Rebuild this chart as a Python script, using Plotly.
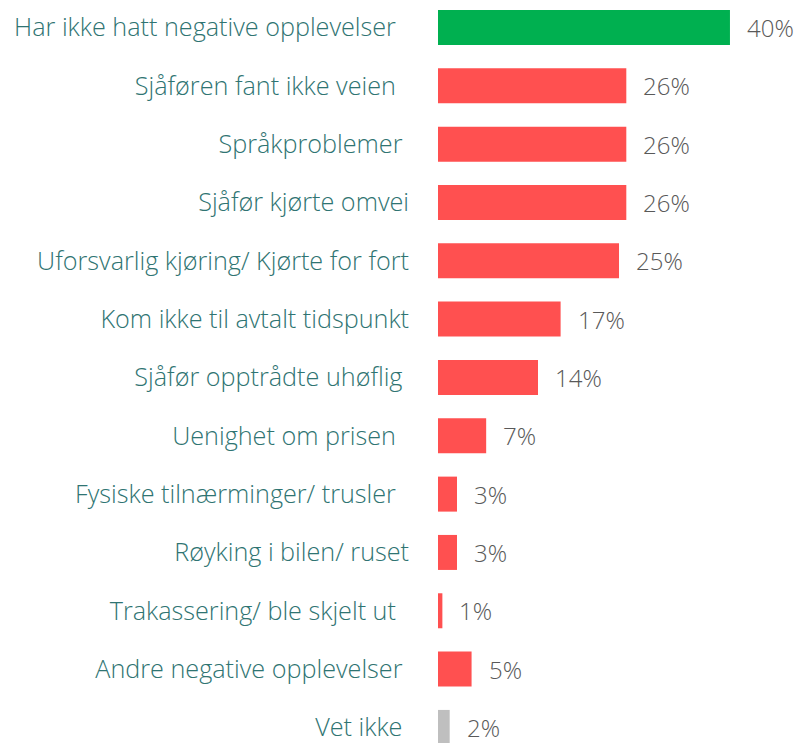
import plotly.graph_objects as go

categories = [
    "Har ikke hatt negative opplevelser\u00a0\u00a0",
    "Sjåføren fant ikke veien\u00a0\u00a0",
    "Språkproblemer\u00a0",
    "Sjåfør kjørte omvei",
    "Uforsvarlig kjøring/ Kjørte for fort",
    "Kom ikke til avtalt tidspunkt",
    "Sjåfør opptrådte uhøflig\u00a0",
    "Uenighet om prisen\u00a0\u00a0",
    "Fysiske tilnærminger/ trusler\u00a0\u00a0",
    "Røyking i bilen/ ruset",
    "Trakassering/ ble skjelt ut\u00a0\u00a0",
    "Andre negative opplevelser\u00a0",
    "Vet ikke\u00a0",
]
values = [40.0, 25.8, 25.8, 25.8, 24.8, 16.8, 13.7, 6.6, 2.6, 2.6, 0.6, 4.6, 1.6]
value_labels = ["40%", "26%", "26%", "26%", "25%", "17%", "14%", "7%", "3%", "3%", "1%", "5%", "2%"]
colors = ["#00B050"] + ["#FF5050"] * 11 + ["#BFBFBF"]

FONT = "Open Sans"

fig = go.Figure()
fig.add_trace(go.Bar(
    x=values,
    y=categories,
    orientation="h",
    marker=dict(color=colors, line=dict(width=0)),
    hoverinfo="skip",
))

for cat, v, lab in zip(categories, values, value_labels):
    fig.add_annotation(
        x=v, y=cat, text=lab, showarrow=False,
        xanchor="left", yanchor="middle", xshift=15,
        font=dict(family=FONT, size=24, color="#595959", weight=300),
    )

fig.update_layout(
    width=796, height=743,
    margin=dict(l=438, r=4, t=0, b=0),
    paper_bgcolor="white", plot_bgcolor="white",
    bargap=0.4,
    showlegend=False,
    xaxis=dict(range=[0, 48.5], visible=False, fixedrange=True),
    yaxis=dict(
        range=[12.267, -0.471],
        showgrid=False, zeroline=False, showline=False,
        ticks="", ticklabelstandoff=28,
        tickfont=dict(family=FONT, size=25.2, color="#2F7472", weight=300),
        fixedrange=True,
    ),
)

fig.write_html("out.html")
